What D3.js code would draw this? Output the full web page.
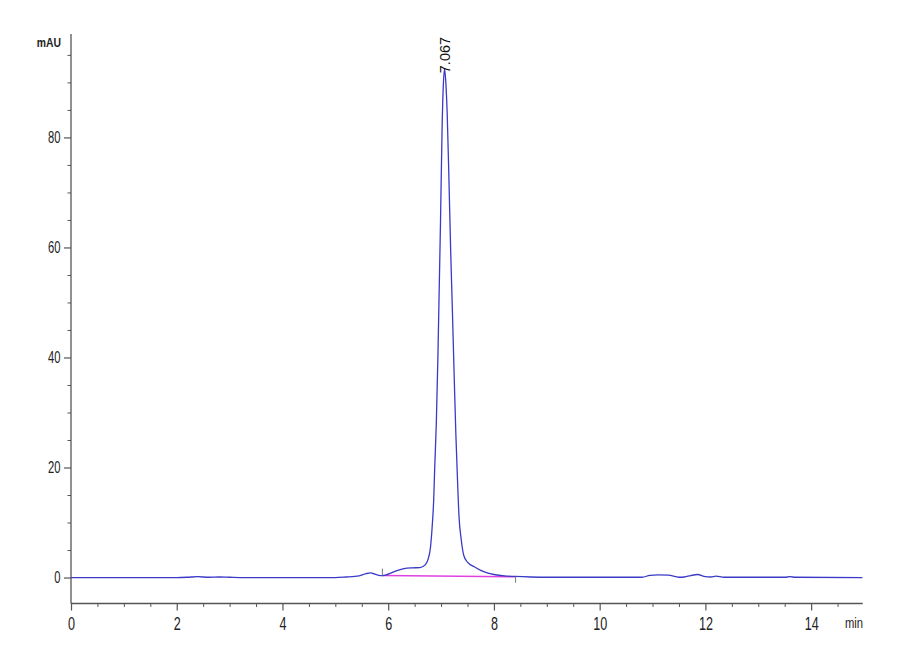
<!DOCTYPE html>
<html>
<head>
<meta charset="utf-8">
<script src="https://cdn.jsdelivr.net/npm/d3@7"></script>
<style>
  html, body { margin: 0; padding: 0; background: #fff; }
  svg { display: block; }
</style>
</head>
<body>
<svg id="chart" width="900" height="660"></svg>
<script>
// ---- Data ----
const timesMin = [0, 2.0, 2.2, 2.4, 2.6, 2.8, 3.0, 3.2, 5.0, 5.2, 5.45, 5.58, 5.67, 5.75, 5.85, 5.95, 6.05, 6.15, 6.3, 6.45, 6.6, 6.7, 6.75, 6.8, 6.83, 6.86, 6.88, 6.91, 6.94, 6.96, 6.99, 7.02, 7.045, 7.067, 7.09, 7.117, 7.15, 7.18, 7.21, 7.25, 7.28, 7.31, 7.34, 7.38, 7.43, 7.5, 7.62, 7.75, 7.87, 8.0, 8.2, 8.4, 8.7, 9.0, 10.8, 10.95, 11.1, 11.3, 11.5, 11.6, 11.72, 11.85, 12.0, 12.1, 12.2, 12.35, 13.5, 13.6, 13.7, 14.97];
const signalMAU = [0, 0, 0.05, 0.15, 0.05, 0.1, 0.05, 0, 0, 0.1, 0.3, 0.7, 0.85, 0.6, 0.35, 0.45, 0.8, 1.2, 1.6, 1.75, 1.8, 2.3, 3.2, 5.5, 9, 14, 20, 28, 40, 50, 65, 82, 90, 92.4, 90, 84, 72, 60, 50, 36, 26, 18, 11, 7, 4, 2.8, 2.0, 1.3, 0.85, 0.55, 0.3, 0.2, 0.1, 0.05, 0.05, 0.4, 0.5, 0.45, 0.05, 0.1, 0.35, 0.55, 0.15, 0.1, 0.25, 0.05, 0.05, 0.15, 0.05, 0];

const peakLabels = ["7.067"];
const peakTimes = [7.067];
const peakHeights = [92.4];

const baselineTimes = [5.89, 8.41];
const baselineValues = [0.35, 0.15];

const xMajorTicks = [0, 2, 4, 6, 8, 10, 12, 14];
const yMajorTicks = [0, 20, 40, 60, 80];
const xUnit = "min";
const yUnit = "mAU";

// ---- Scales ----
const svg = d3.select("#chart");
const x = d3.scaleLinear().domain([0, 15]).range([71, 864]);
const y = d3.scaleLinear().domain([-4.72, 98.8]).range([603.5, 34]);

const axisColor = "#555";
const textColor = "#222";
const fontFam = '"Liberation Sans", Arial, sans-serif';
const SX = 0.7; // narrow glyphs as in the reference

// X axis (ticks pointing down)
const xMinor = d3.range(0, 14.75, 0.5).filter(v => !xMajorTicks.includes(v));
const gx = svg.append("g").attr("transform", `translate(0,${y(-4.72)})`);
gx.append("line").attr("x1", x(0)).attr("x2", 862.7).attr("y1", 0).attr("y2", 0)
  .attr("stroke", axisColor).attr("stroke-width", 1.3);
gx.call(d3.axisBottom(x).tickValues(xMinor).tickSize(3.5).tickFormat(""))
  .call(g => g.select(".domain").remove())
  .call(g => g.selectAll(".tick line").attr("stroke", axisColor));
const gx2 = svg.append("g").attr("transform", `translate(0,${y(-4.72)})`);
gx2.call(d3.axisBottom(x).tickValues(xMajorTicks).tickSize(7).tickPadding(7).tickFormat(d3.format("d")))
  .call(g => g.select(".domain").remove())
  .call(g => g.selectAll(".tick line").attr("stroke", axisColor).attr("stroke-width", 1.2))
  .call(g => g.selectAll(".tick text").attr("fill", textColor).attr("font-size", 18)
    .attr("font-family", fontFam).attr("transform", `scale(${SX},1)`));
svg.append("text").attr("transform", `translate(863,628) scale(0.8,1)`).attr("text-anchor", "end")
  .attr("font-family", fontFam).attr("font-size", 14).attr("fill", textColor).text(xUnit);

// Y axis (ticks pointing left)
const yMinor = d3.range(5, 96, 5).filter(v => !yMajorTicks.includes(v));
const gy = svg.append("g").attr("transform", `translate(${x(0)},0)`);
gy.append("line").attr("x1", 0).attr("x2", 0).attr("y1", y(98.8)).attr("y2", y(-4.72))
  .attr("stroke", axisColor).attr("stroke-width", 1.3);
gy.call(d3.axisLeft(y).tickValues(yMinor).tickSize(3.5).tickFormat(""))
  .call(g => g.select(".domain").remove())
  .call(g => g.selectAll(".tick line").attr("stroke", axisColor));
const gy2 = svg.append("g").attr("transform", `translate(${x(0)},0)`);
gy2.call(d3.axisLeft(y).tickValues(yMajorTicks).tickSize(7).tickPadding(3).tickFormat(d3.format("d")))
  .call(g => g.select(".domain").remove())
  .call(g => g.selectAll(".tick line").attr("stroke", axisColor).attr("stroke-width", 1.2))
  .call(g => g.selectAll(".tick text").attr("fill", textColor).attr("font-size", 16)
    .attr("font-family", fontFam).attr("x", -10.5 / SX).attr("transform", `scale(${SX},1)`));
svg.append("text").attr("transform", `translate(61,47) scale(0.8,1)`).attr("text-anchor", "end")
  .attr("font-family", fontFam).attr("font-size", 13).attr("font-weight", "bold").attr("fill", textColor).text(yUnit);

// Integration baseline (magenta)
const baseData = baselineTimes.map((t, i) => [t, baselineValues[i]]);
svg.append("path").datum(baseData)
  .attr("d", d3.line().x(d => x(d[0])).y(d => y(d[1])))
  .attr("fill", "none").attr("stroke", "#e040e0").attr("stroke-width", 1.5);

// Signal trace
const sig = timesMin.map((t, i) => [t, signalMAU[i]]);
svg.append("path").datum(sig)
  .attr("d", d3.line().x(d => x(d[0])).y(d => y(d[1])).curve(d3.curveMonotoneX))
  .attr("fill", "none").attr("stroke", "#3a3ac8").attr("stroke-width", 1.3);

// Integration event marks
svg.append("line").attr("x1", x(baselineTimes[0])).attr("x2", x(baselineTimes[0]))
  .attr("y1", y(baselineValues[0]) - 7).attr("y2", y(baselineValues[0]))
  .attr("stroke", "#777").attr("stroke-width", 1);
svg.append("line").attr("x1", x(baselineTimes[1])).attr("x2", x(baselineTimes[1]))
  .attr("y1", y(baselineValues[1])).attr("y2", y(baselineValues[1]) + 6)
  .attr("stroke", "#777").attr("stroke-width", 1);

// Peak labels (rotated)
peakLabels.forEach((lab, i) => {
  const px = x(peakTimes[i]) + 5, py = y(peakHeights[i]) + 4;
  svg.append("text")
    .attr("transform", `translate(${px},${py}) rotate(-90)`)
    .attr("font-family", fontFam).attr("font-size", 14.5)
    .attr("fill", "#111").text(lab);
});
</script>
</body>
</html>
